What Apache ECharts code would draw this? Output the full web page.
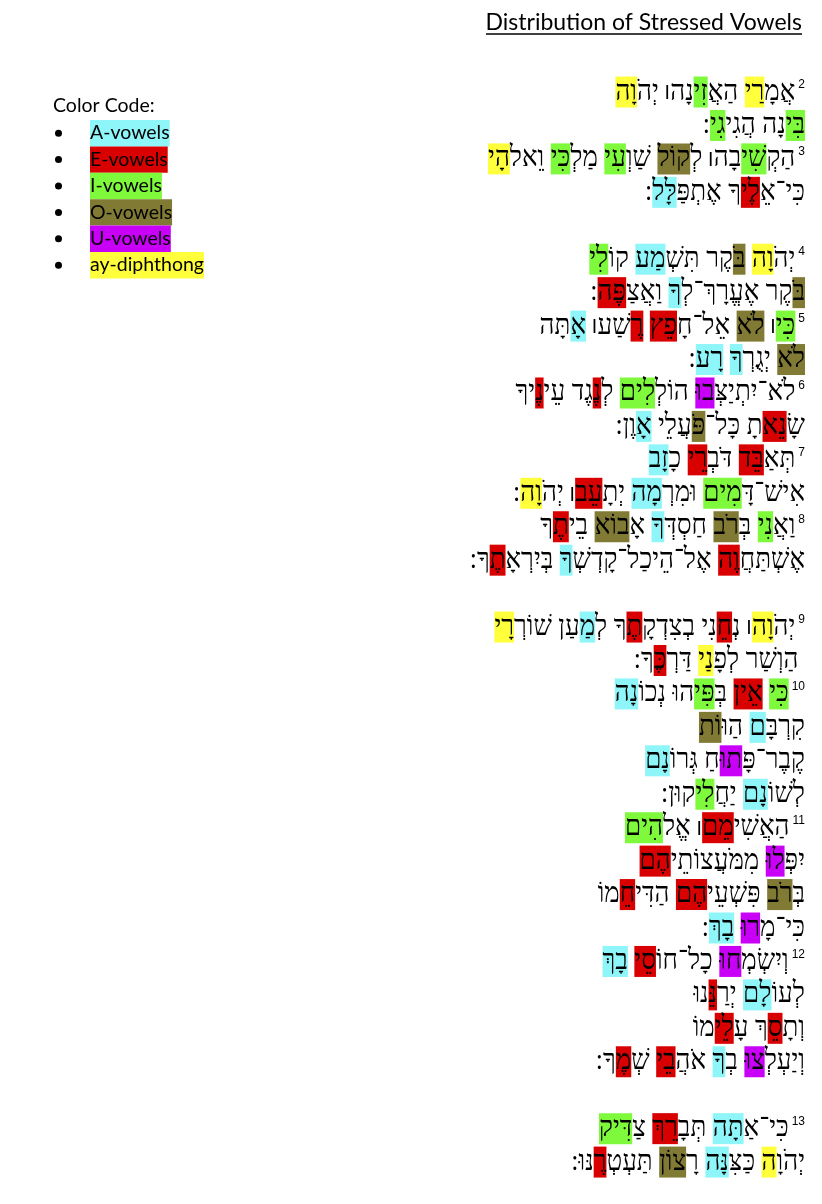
<!DOCTYPE html>
<html><head><meta charset="utf-8">
<script src="https://cdn.jsdelivr.net/npm/echarts@6/dist/echarts.min.js"></script>
<style>html,body{margin:0;padding:0;background:#fff}#c{width:822px;height:1204px}</style>
</head><body><div id="c"></div>
<script>
// ---- data ----
const chartTitle = 'Distribution of Stressed Vowels';
const legendTitle = 'Color Code:';
const classNames = ['A-vowels', 'E-vowels', 'I-vowels', 'O-vowels', 'U-vowels', 'ay-diphthong'];
const classKeys  = ['a', 'e', 'i', 'o', 'u', 'y'];
const classColors = ['#8ef5f8', '#d80000', '#7ef93c', '#807a34', '#c900f7', '#ffff3c'];
// line text (logical order); [k:...] marks a stressed syllable of vowel class k
const lines = [
  'אֲמָ[y:רַי] הַאֲ[i:זִי]נָה׀ יְהֹ[y:וָה]',
  '[i:בִּי]נָה הֲגִי[i:גִי]:',
  'הַקְ[i:שִׁי]בָה׀ לְ[o:קוֹל] שַׁוְ[i:עִי] מַלְ[i:כִּי] וֵאלֹ[y:הָי]',
  'כִּי־אֵ[e:לֶי]ךָ אֶתְפַּ[a:לָּל]:',
  '',
  'יְהֹ[y:וָה] [o:בֹּ]קֶר תִּשְׁ[a:מַע] קוֹ[i:לִי]',
  '[o:בֹּ]קֶר אֶעֱרָךְ־לְ[a:ךָ] וַאֲצַ[e:פֶּה]:',
  '[i:כִּי]׀ [o:לֹא] אֵל־חָ[e:פֵץ] [e:רֶ]שַׁע׀ [a:אָ]תָּה',
  '[o:לֹא] יְגֻרְ[a:ךָ] [a:רָע]:',
  'לֹא־יִתְיַצְּ[u:בוּ] הוֹלְ[i:לִים] לְ[e:נֶ]גֶד עֵי[e:נֶ]יךָ',
  'שָׂ[e:נֵא]תָ כָּל־[o:פֹּ]עֲלֵי [a:אָ]וֶן:',
  'תְּאַ[e:בֵּד] דֹּבְ[e:רֵי] כָ[a:זָב]',
  'אִישׁ־דָּ[i:מִים] וּמִרְ[a:מָה] יְתָ[e:עֵב]׀ יְהֹ[y:וָה]:',
  'וַאֲ[i:נִי] בְּ[o:רֹב] חַסְדְּ[a:ךָ] אָ[o:בוֹא] בֵי[e:תֶ]ךָ',
  'אֶשְׁתַּחֲ[e:וֶה] אֶל־הֵיכַל־קָדְשְׁ[a:ךָ] בְּיִרְאָ[e:תֶ]ךָ:',
  '',
  'יְהֹ[y:וָה]׀ נְ[e:חֵ]נִי בְצִדְקָ[e:תֶ]ךָ לְ[a:מַ]עַן שׁוֹרְ[y:רָי]',
  ' הַוְשַׁר לְפָ[y:נַי] דַּרְ[e:כֶּ]ךָ:',
  '[i:כִּי] [e:אֵין] בְּ[i:פִּי]הוּ נְכוֹ[a:נָה]',
  'קִרְבָּ[a:ם] הַוּ[o:וֹת]',
  'קֶבֶר־פָּ[u:תוּ]חַ גְּרוֹ[a:נָם]',
  'לְשׁוֹ[a:נָם] יַחֲ[i:לִי]קוּן:',
  'הַאֲשִׁי[e:מֵם]׀ אֱלֹ[i:הִים]',
  'יִפְּ[u:לוּ] מִמֹּעֲצוֹתֵי[e:הֶם]',
  'בְּ[o:רֹב] פִּשְׁעֵי[e:הֶם] הַדִּי[e:חֵ]מוֹ',
  'כִּי־מָ[u:רוּ] [a:בָךְ]:',
  'וְיִשְׂמְ[u:חוּ] כָל־חוֹ[e:סֵי] [a:בָךְ]',
  'לְעוֹ[a:לָם] יְרַ[e:נֵּ]נוּ',
  'וְתָ[e:סֵ]ךְ עָ[e:לֵי]מוֹ',
  'וְיַעְלְ[u:צוּ] בְ[a:ךָ] אֹהֲ[e:בֵי] שְׁ[e:מֶ]ךָ:',
  '',
  'כִּי־אַ[a:תָּה] תְּבָ[e:רֵךְ] צַ[i:דִּיק]',
  'יְהֹוָ[y:ה] כַּצִּ[a:נָּה] רָ[o:צוֹן] תַּעְטְ[e:רֶ]נּוּ:'
];
const verseNumbers = ['2','','3','','','4','','5','','6','','7','','8','','','9','','10','','','','11','','','','12','','','','','13',''];

// ---- styling ----
const SY = 1.1;
const HEB_FONT = '"Liberation Serif","DejaVu Sans",serif';
const HEB_SIZE = 26;
const BOX = 31 / SY;
const LAT_FONT = 'Lato, "Open Sans", sans-serif';

const rich = {
  p: {fontFamily: HEB_FONT, fontSize: HEB_SIZE, fill: '#000', height: BOX, verticalAlign: 'middle'},
  b: {fontFamily: '"Liberation Sans",Arial,sans-serif', fontWeight: 'bold', fontSize: 14, fill: '#000', height: BOX, verticalAlign: 'middle', padding: [0, 1, 0, 0]},
  n: {fontFamily: '"Liberation Sans",Arial,sans-serif', fontSize: 12, fill: '#000', height: 14 / SY, verticalAlign: 'top', padding: [1, 0, 0, 3]}
};
classKeys.forEach((k, i) => {
  rich[k] = {fontFamily: HEB_FONT, fontSize: HEB_SIZE, fill: '#000', height: BOX, verticalAlign: 'middle', backgroundColor: classColors[i]};
});

function toRich(src, num) {
  const toks = [];
  const re = /\[([aeiouy]):([^\]]+)\]/g;
  let last = 0, m;
  const pushPlain = s => s.split(/([ ׀־:])/).forEach(t => {
    if (!t) return;
    if (t === '׀') toks.push(['b', '|']);
    else toks.push(['p', t]);
  });
  while ((m = re.exec(src))) {
    pushPlain(src.slice(last, m.index));
    toks.push([m[1], m[2]]);
    last = re.lastIndex;
  }
  pushPlain(src.slice(last));
  toks.reverse();               // right-to-left: visual order left to right
  if (num) toks.push(['n', num]);
  return toks.map(([s, t]) => '{' + s + '|' + t + '}').join('');
}
const richLines = lines.map((l, i) => l ? toRich(l, verseNumbers[i]) : '');

const legendRich = {sp: {width: 23, height: 26.4}};
classKeys.forEach((k, i) => {
  legendRich[k] = {backgroundColor: classColors[i], height: 26.4, color: '#000', fontFamily: LAT_FONT, fontSize: 19.5};
});

const chart = echarts.init(document.getElementById('c'), null, {renderer: 'canvas'});
const series = [{
  type: 'custom',
  name: 'verses',
  silent: true,
  data: lines.map((l, i) => [1, i]),
  renderItem: function (params, api) {
    const idx = params.dataIndex;
    if (!richLines[idx]) return null;
    const pt = api.coord([api.value(0), api.value(1)]);
    return {
      type: 'text',
      x: pt[0], y: pt[1],
      scaleY: SY,
      style: {text: richLines[idx], rich: rich, align: 'right', verticalAlign: 'middle', fill: '#000', font: HEB_SIZE + 'px ' + HEB_FONT}
    };
  }
}];
classNames.forEach((n, i) => series.push({type: 'custom', name: n, data: [], itemStyle: {color: classColors[i]}, renderItem: () => null}));

chart.setOption({
  animation: false,
  backgroundColor: '#fff',
  title: [
    {text: chartTitle, right: 15, top: 6, textStyle: {fontFamily: LAT_FONT, fontSize: 23, fontWeight: 'normal', color: '#000'}},
    {text: legendTitle, left: 48, top: 91, textStyle: {fontFamily: LAT_FONT, fontSize: 19.5, fontWeight: 'normal', color: '#000'}}
  ],
  legend: {
    orient: 'vertical', left: 55, top: 120, padding: 0, itemGap: 0,
    itemWidth: 7, itemHeight: 7, icon: 'circle', selectedMode: false,
    data: classNames.map(n => ({name: n, itemStyle: {color: '#000'}})),
    formatter: n => '{sp| }{' + classKeys[classNames.indexOf(n)] + '|' + n + '}',
    textStyle: {fontFamily: LAT_FONT, fontSize: 19.5, color: '#000', rich: legendRich}
  },
  grid: {left: 430, right: 17, top: 75.3, bottom: 25.2},
  xAxis: {type: 'value', min: 0, max: 1, show: false},
  yAxis: {type: 'category', inverse: true, show: false, data: lines.map((l, i) => String(i))},
  graphic: [{type: 'line', shape: {x1: 486, y1: 34, x2: 802, y2: 34}, style: {stroke: '#000', lineWidth: 1.3}}],
  series: series
});
</script></body></html>
